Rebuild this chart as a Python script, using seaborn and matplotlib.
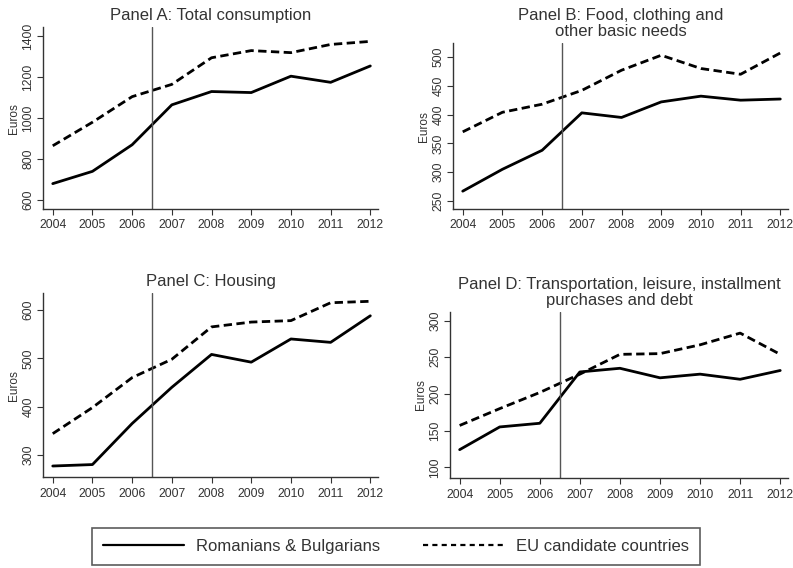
import pandas as pd
import numpy as np
import matplotlib
matplotlib.use("Agg")
import matplotlib.pyplot as plt
import seaborn as sns

# data
years = [2004, 2005, 2006, 2007, 2008, 2009, 2010, 2011, 2012]
groups = ["Romanians & Bulgarians", "EU candidate countries"]

total_rb = [680, 740, 870, 1065, 1130, 1125, 1205, 1175, 1255]
total_eu = [865, 980, 1105, 1165, 1295, 1330, 1320, 1360, 1375]

food_rb = [267, 305, 338, 403, 395, 422, 432, 425, 427]
food_eu = [370, 404, 418, 442, 477, 503, 480, 470, 507]

housing_rb = [277, 280, 365, 440, 508, 492, 540, 533, 588]
housing_eu = [344, 398, 460, 498, 565, 575, 578, 615, 618]

transport_rb = [124, 155, 160, 230, 235, 222, 227, 220, 232]
transport_eu = [157, 180, 202, 227, 254, 255, 267, 283, 254]

titles = ["Panel A: Total consumption",
          "Panel B: Food, clothing and\nother basic needs",
          "Panel C: Housing",
          "Panel D: Transportation, leisure, installment\npurchases and debt"]
yticks = [[600, 800, 1000, 1200, 1400],
          [250, 300, 350, 400, 450, 500],
          [300, 400, 500, 600],
          [100, 150, 200, 250, 300]]
ylims = [(556, 1444), (236, 524), (254, 635), (85, 312)]
panels = [(total_rb, total_eu), (food_rb, food_eu),
          (housing_rb, housing_eu), (transport_rb, transport_eu)]

sns.set_style("ticks")
plt.rcParams['font.family'] = ['Liberation Sans', 'DejaVu Sans']
txt = "#333333"

fig = plt.figure(figsize=(7.93, 5.68), dpi=100)
# axes positions [left, bottom, width, height]
boxes = [[0.054, 0.632, 0.423, 0.320],
         [0.571, 0.632, 0.423, 0.292],
         [0.054, 0.160, 0.423, 0.324],
         [0.567, 0.158, 0.427, 0.293]]

dashes = {groups[0]: "", groups[1]: (3, 1.6)}

for i, (rb, eu) in enumerate(panels):
    ax = fig.add_axes(boxes[i])
    df = pd.DataFrame({
        "year": years * 2,
        "euros": rb + eu,
        "group": [groups[0]] * len(years) + [groups[1]] * len(years),
    })
    sns.lineplot(data=df, x="year", y="euros", style="group", dashes=dashes,
                 color="black", linewidth=2, legend=(i == 0), ax=ax)
    ax.axvline(2006.5, color="#555555", linewidth=1)
    ax.set_xlim(2003.75, 2012.2)
    ax.set_ylim(*ylims[i])
    ax.set_xticks(years)
    ax.set_yticks(yticks[i])
    ax.set_xlabel("")
    ax.set_ylabel("Euros", fontsize=8.5, color=txt, labelpad=2)
    ax.set_title(titles[i], fontsize=12, color=txt, pad=5, linespacing=1.1)
    ax.tick_params(axis="both", labelsize=8.8, colors=txt, length=4, width=0.8)
    ax.tick_params(axis="y", labelrotation=90, pad=2)
    for lbl in ax.get_yticklabels():
        lbl.set_va("center")
    for s in ["left", "bottom"]:
        ax.spines[s].set_color("#333333")
        ax.spines[s].set_linewidth(1)
    sns.despine(ax=ax)
    if i == 0:
        handles, labels = ax.get_legend_handles_labels()
        ax.get_legend().remove()

leg = fig.legend(handles, labels, ncol=2, loc="center",
                 bbox_to_anchor=(396 / 793, 1 - 546.5 / 568),
                 fontsize=12, handlelength=4.85, handletextpad=0.72,
                 columnspacing=2.6, borderpad=0.68,
                 frameon=True, fancybox=False, edgecolor="#333333",
                 labelcolor=txt)
leg.get_frame().set_linewidth(1.2)
for ln in leg.get_lines():
    ln.set_linewidth(1.6)
leg.get_lines()[1].set_dashes((2.3, 1.9))

fig.savefig("out.png", dpi=100)
